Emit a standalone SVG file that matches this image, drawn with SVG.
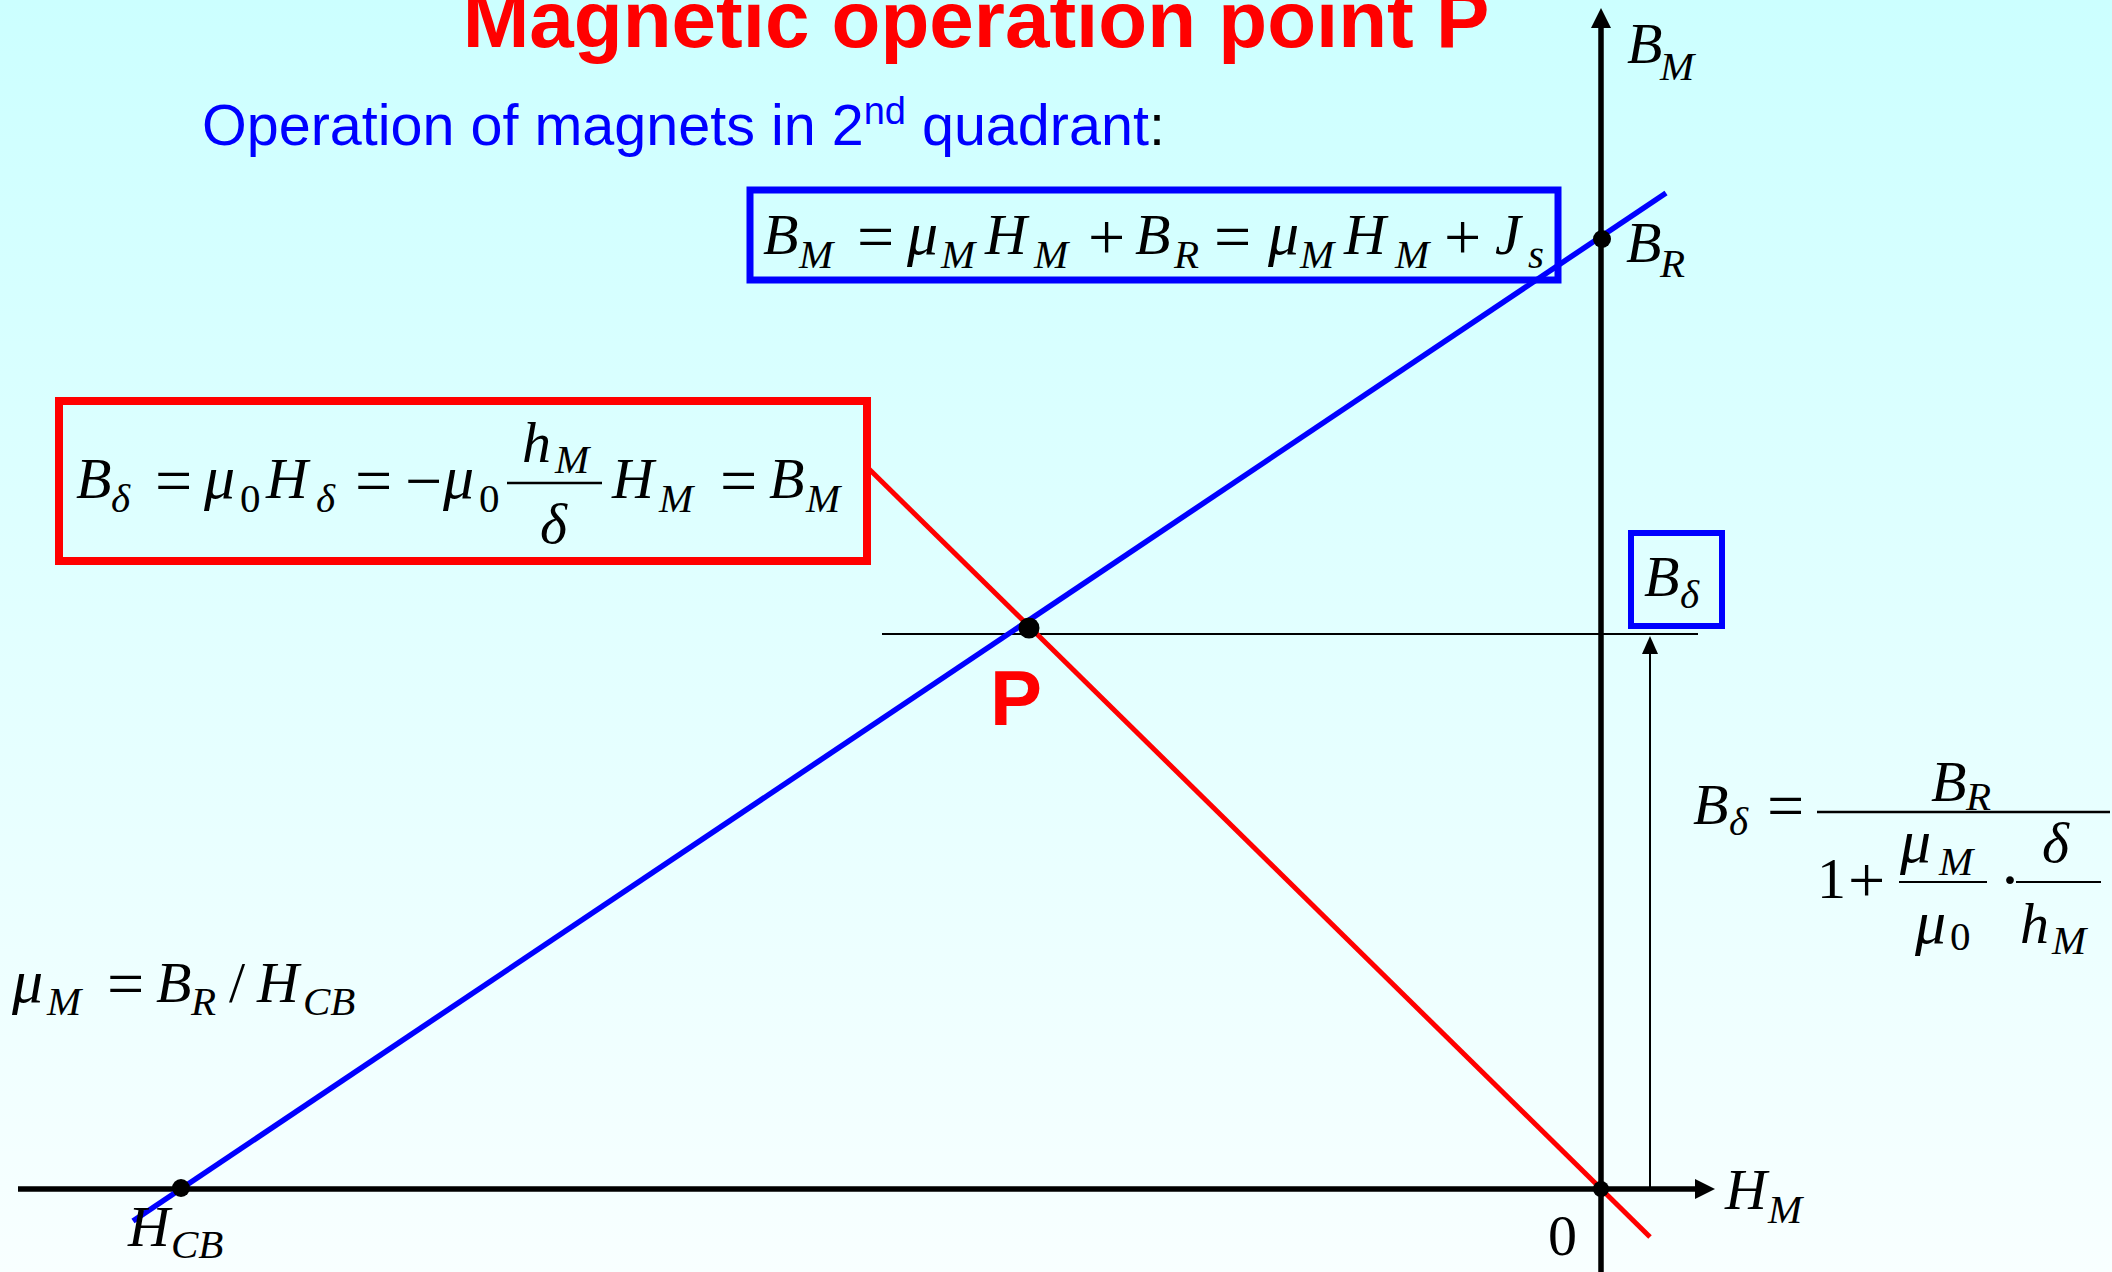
<svg xmlns="http://www.w3.org/2000/svg" width="2112" height="1272" viewBox="0 0 2112 1272">
<defs>
<linearGradient id="bg" x1="0" y1="0" x2="0" y2="1">
<stop offset="0" stop-color="#CCFFFF"/>
<stop offset="1" stop-color="#F8FFFF"/>
</linearGradient>
<style>
.t{font-family:"Liberation Serif","Times New Roman",serif;font-style:italic;font-size:58px;fill:#000}
.g{font-family:"Liberation Serif","Times New Roman",serif;font-style:italic;font-size:62px;fill:#000}
.ts{font-family:"Liberation Serif","Times New Roman",serif;font-style:italic;font-size:41px;fill:#000}
.u{font-family:"Liberation Serif","Times New Roman",serif;font-size:58px;fill:#000}
.us{font-family:"Liberation Serif","Times New Roman",serif;font-size:41px;fill:#000}
.op{font-family:"Liberation Serif","Times New Roman",serif;font-size:66px;fill:#000}
.ax{stroke:#000;stroke-width:5.5;fill:none}
.thin{stroke:#000;stroke-width:2;fill:none}
.dot{fill:#000}
</style>
</defs>
<rect x="0" y="0" width="2112" height="1272" fill="url(#bg)"/>

<g id="title">
<text x="976" y="47" text-anchor="middle" font-family="Liberation Sans, Arial, sans-serif" font-weight="bold" font-size="80" fill="#FF0000">Magnetic operation point P</text>
<text x="202" y="145" font-family="Liberation Sans, Arial, sans-serif" font-size="57.5" fill="#0000FF">Operation of magnets in 2<tspan font-size="38" dy="-21">nd</tspan><tspan dy="21"> quadrant</tspan><tspan fill="#000">:</tspan></text>
</g>

<g id="connectors">
<line class="ax" x1="18" y1="1189" x2="1698" y2="1189"/>
<polygon points="1715,1189 1695,1179 1695,1199" fill="#000"/>
<line class="ax" x1="1601" y1="1272" x2="1601" y2="25"/>
<polygon points="1601,8 1591,28 1611,28" fill="#000"/>
<line class="thin" x1="882" y1="634" x2="1698" y2="634"/>
<line class="thin" x1="1650" y1="1189" x2="1650" y2="650"/>
<polygon points="1650,636 1642,654 1658,654" fill="#000"/>
<line x1="133" y1="1221" x2="1666" y2="193" stroke="#0000FF" stroke-width="5.5"/>
<line x1="869" y1="469" x2="1650" y2="1237" stroke="#FF0000" stroke-width="5"/>
</g>

<g id="points">
<circle class="dot" cx="181" cy="1188" r="9"/>
<circle class="dot" cx="1601" cy="1189" r="8"/>
<circle class="dot" cx="1602" cy="239" r="9"/>
<circle class="dot" cx="1029" cy="628" r="10.5"/>
<text x="990" y="725" font-family="Liberation Sans, Arial, sans-serif" font-weight="bold" font-size="78" fill="#FF0000">P</text>
</g>

<g id="axis-labels">
<text class="t" x="1627" y="63" font-size="50">B</text><text class="ts" x="1660" y="80" font-size="37">M</text>
<text class="t" x="1626" y="262" font-size="50">B</text><text class="ts" x="1660" y="277" font-size="37">R</text>
<text class="t" x="1725" y="1209" font-size="50">H</text><text class="ts" x="1768" y="1223" font-size="37">M</text>
<text class="u" x="1548" y="1255" font-size="50">0</text>
<text class="t" x="128" y="1246" font-size="50">H</text><text class="ts" x="171" y="1258" font-size="37">CB</text>
</g>

<g id="eq-blue">
<rect x="750" y="190" width="808" height="90" fill="none" stroke="#0000FF" stroke-width="7"/>
<text class="t" x="763" y="254">B</text><text class="ts" x="799" y="268">M</text>
<text class="op" x="857" y="259">=</text>
<text class="g" x="907" y="254">μ</text><text class="ts" x="941" y="268">M</text>
<text class="t" x="985" y="254">H</text><text class="ts" x="1034" y="268">M</text>
<text class="op" x="1088" y="259">+</text>
<text class="t" x="1135" y="254">B</text><text class="ts" x="1174" y="268">R</text>
<text class="op" x="1214" y="259">=</text>
<text class="g" x="1268" y="254">μ</text><text class="ts" x="1300" y="268">M</text>
<text class="t" x="1344" y="254">H</text><text class="ts" x="1395" y="268">M</text>
<text class="op" x="1444" y="259">+</text>
<text class="t" x="1495" y="254">J</text><text class="ts" x="1528" y="268">s</text>
</g>

<g id="eq-red">
<rect x="59" y="401" width="808" height="160" fill="none" stroke="#FF0000" stroke-width="8"/>
<text class="t" x="76" y="498">B</text><text class="ts" x="111" y="512">δ</text>
<text class="op" x="155" y="503">=</text>
<text class="g" x="204" y="498">μ</text><text class="us" x="240" y="512">0</text>
<text class="t" x="266" y="498">H</text><text class="ts" x="316" y="512">δ</text>
<text class="op" x="355" y="503">=</text>
<text class="op" x="405" y="503">−</text>
<text class="g" x="443" y="498">μ</text><text class="us" x="479" y="512">0</text>
<line x1="507" y1="483" x2="602" y2="483" stroke="#000" stroke-width="2.5"/>
<text class="t" x="522" y="462">h</text><text class="ts" x="555" y="473">M</text>
<text class="t" x="540" y="543">δ</text>
<text class="t" x="612" y="498">H</text><text class="ts" x="659" y="512">M</text>
<text class="op" x="720" y="503">=</text>
<text class="t" x="769" y="498">B</text><text class="ts" x="806" y="512">M</text>
</g>

<g id="eq-box-bdelta">
<rect x="1631" y="533" width="91" height="93" fill="none" stroke="#0000FF" stroke-width="6"/>
<text class="t" x="1644" y="596" font-size="56">B</text><text class="ts" x="1680" y="608">δ</text>
</g>

<g id="eq-mu">
<text class="g" x="12" y="1002" font-size="60">μ</text><text class="ts" x="47" y="1015" font-size="40">M</text>
<text class="op" x="107" y="1006" font-size="62">=</text>
<text class="t" x="156" y="1002" font-size="56">B</text><text class="ts" x="191" y="1015" font-size="40">R</text>
<text class="u" x="229" y="1002" font-size="56">/</text>
<text class="t" x="257" y="1002" font-size="56">H</text><text class="ts" x="303" y="1015" font-size="40">CB</text>
</g>

<g id="eq-bdelta">
<text class="t" x="1693" y="824" font-size="56">B</text><text class="ts" x="1729" y="835" font-size="40">δ</text>
<text class="op" x="1767" y="828" font-size="62">=</text>
<line x1="1817" y1="812" x2="2110" y2="812" stroke="#000" stroke-width="2.5"/>
<text class="t" x="1931" y="801" font-size="56">B</text><text class="ts" x="1966" y="810" font-size="40">R</text>
<text class="u" x="1817" y="898" font-size="56">1</text>
<text class="op" x="1848" y="902" font-size="62">+</text>
<line x1="1899" y1="882" x2="1987" y2="882" stroke="#000" stroke-width="2"/>
<text class="g" x="1900" y="862" font-size="60">μ</text><text class="ts" x="1939" y="875" font-size="40">M</text>
<text class="g" x="1915" y="943" font-size="60">μ</text><text class="us" x="1950" y="950" font-size="40">0</text>
<text class="op" x="1999" y="902" font-size="62">·</text>
<line x1="2016" y1="882" x2="2101" y2="882" stroke="#000" stroke-width="2"/>
<text class="t" x="2042" y="862" font-size="56">δ</text>
<text class="t" x="2020" y="943" font-size="56">h</text><text class="ts" x="2052" y="954" font-size="40">M</text>
</g>
</svg>
